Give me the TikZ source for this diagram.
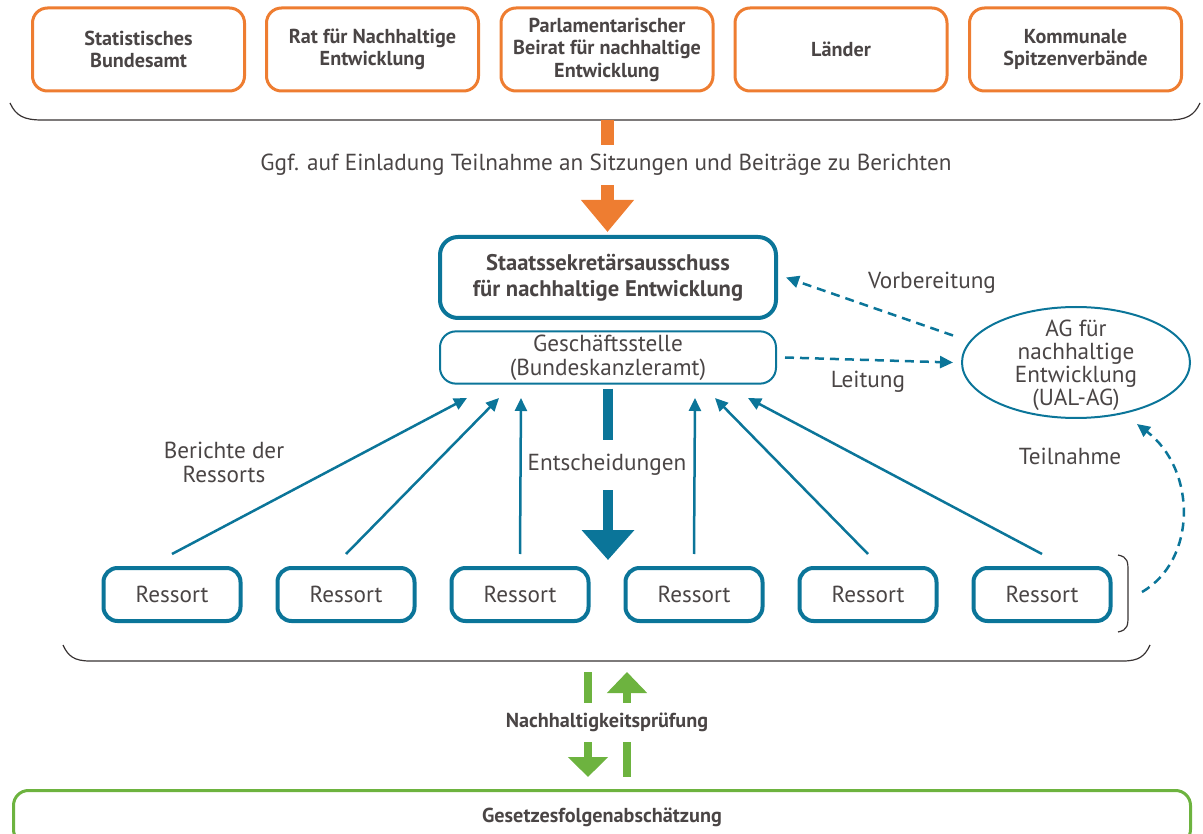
\documentclass[tikz,border=0pt]{standalone}
\usepackage{fontspec}
\setmainfont{PT Sans}
\usetikzlibrary{arrows.meta,shapes.geometric}
\definecolor{orangeline}{HTML}{EE7D31}
\definecolor{tealline}{HTML}{0B7599}
\definecolor{greenline}{HTML}{6DB33F}
\definecolor{textgray}{HTML}{4A4545}
\definecolor{bracegray}{HTML}{383333}
\tikzset{
    every node/.append style={text=textgray},
    lbl/.style={font=\fontsize{23.2}{23}\selectfont, align=center},
    boldlbl/.style={font=\fontsize{20.2}{22.5}\selectfont\bfseries, align=center},
    inst/.style={boldlbl, draw=orangeline, line width=3pt, rounded corners=15pt, minimum width=212pt, minimum height=83pt},
    ressort/.style={lbl, draw=tealline, line width=4pt, rounded corners=14pt, minimum width=137pt, minimum height=53pt},
    report/.style={draw=tealline, line width=2.5pt, -{Triangle[length=13pt,width=12pt]}},
    dasharrow/.style={report, dash pattern=on 9pt off 6pt},
    bracket/.style={draw=bracegray, line width=1.2pt},
}

\begin{document}
\begin{tikzpicture}[x=1pt,y=-1pt]
\useasboundingbox (0,0) rectangle (1203,834);
% beteiligte Institutionen
\node[inst] (stba) at (138.5,49.5) {Statistisches\\Bundesamt};
\node[inst] (rne) at (372.5,49.5) {Rat für Nachhaltige\\Entwicklung};
\node[inst] (pbne) at (607,49.5) {Parlamentarischer\\Beirat für nachhaltige\\Entwicklung};
\node[inst] (laender) at (841,49.5) {Länder};
\node[inst] (ksv) at (1075.5,49.5) {Kommunale\\Spitzenverbände};
\draw[bracket] (10,103) .. controls (16,116) and (24,120) .. (42,120) -- (1168,120) .. controls (1186,120) and (1194,116) .. (1200,103);

% Ausschuss und Geschaeftsstelle
\node[draw=tealline, line width=4pt, rounded corners=18pt, minimum width=336pt, minimum height=81pt, align=center, font=\fontsize{22.6}{26}\selectfont\bfseries] (st) at (608,277.5) {Staatssekretärsausschuss\\für nachhaltige Entwicklung};
\node[lbl, draw=tealline, line width=2pt, rounded corners=16pt, minimum width=336pt, minimum height=49pt, font=\fontsize{23.2}{24}\selectfont] (gs) at (608,357.5) {Geschäftsstelle\\(Bundeskanzleramt)};

% orangener Pfeil
\coordinate (ob) at (607.5,120);
\node[lbl, minimum height=40pt, inner sep=0pt] (ggf) at (606,165) {Ggf. auf Einladung Teilnahme an Sitzungen und Beiträge zu Berichten};
\draw[orangeline, line width=13pt] (ob) -- (ob |- ggf.north);
\draw[orangeline, line width=13pt, -{Triangle[length=32pt,width=51pt]}, shorten >=3pt] (ob |- ggf.south) -- (ob |- st.north);

% UAL-AG
\node[ellipse, draw=tealline, line width=2pt, minimum width=228pt, minimum height=111pt] (ag) at (1076,362.5) {};
\node[lbl] (agtext) at (1076,365) {AG für\\nachhaltige\\Entwicklung\\(UAL-AG)};
\draw[dasharrow] ([xshift=-8pt,yshift=27pt]ag.west) -- ([xshift=8pt]st.east);
\draw[dasharrow] ([xshift=8pt]gs.east) -- ([xshift=-8pt]ag.west);
\node[lbl] (vorb) at (932,283) {Vorbereitung};
\node[lbl] (leit) at (868,382) {Leitung};

% Ressorts
\foreach \i in {1,...,6}
    \node[ressort] (r\i) at ({172+174*(\i-1)},594.5) {Ressort};
\foreach \i/\e in {1/467,2/499,3/521,4/695,5/715,6/748} {
    \coordinate (e\i) at (\e,398);
    \draw[report] ([yshift=12pt]r\i.north) -- (e\i);
}
\node[lbl, font=\fontsize{23.2}{24}\selectfont] (ber) at (224,462) {Berichte der\\Ressorts};

% Entscheidungen
\coordinate (et) at (608,560);
\node[lbl, minimum height=50pt, inner sep=0pt] (ent) at (607,465) {Entscheidungen};
\draw[tealline, line width=10pt] ([yshift=-4pt]gs.south) -- (et |- ent.north);
\draw[tealline, line width=10pt, -{Triangle[length=30pt,width=51pt]}] (et |- ent.south) -- (et);

% Teilnahme
\draw[bracket] (1118,555) .. controls (1128,557) and (1128,562) .. (1128,572) -- (1128,615) .. controls (1128,625) and (1128,630) .. (1118,632);
\coordinate (tn) at (1142,592);
\draw[dasharrow] (tn) .. controls (1197,560) and (1197,470) .. ([xshift=61pt,yshift=-5pt]ag.south);
\node[lbl] (teil) at (1070,456) {Teilnahme};
\draw[bracket] (63,645) .. controls (68,656) and (74,661) .. (90,661) -- (1123,661) .. controls (1139,661) and (1145,656) .. (1150,645);

% Nachhaltigkeitspruefung
\node[boldlbl, draw=greenline, line width=3pt, rounded corners=15pt, minimum width=1177pt, minimum height=54pt] (gfa) at (602,817.5) {Gesetzesfolgenabschätzung};
\node[boldlbl, minimum height=39pt, inner sep=0pt] (np) at (607,722.5) {Nachhaltigkeitsprüfung};
\coordinate (gl) at (588,672);
\coordinate (gr) at (627,672);
\draw[greenline, line width=8pt] (gl) -- (gl |- np.north);
\draw[greenline, line width=8pt, -{Triangle[length=21pt,width=39pt]}] (gr |- np.north) -- (gr);
\draw[greenline, line width=8pt, -{Triangle[length=20pt,width=39pt]}, shorten >=12pt] (gl |- np.south) -- (gl |- gfa.north);
\draw[greenline, line width=8pt, shorten >=12pt] (gr |- np.south) -- (gr |- gfa.north);
\end{tikzpicture}
\end{document}
